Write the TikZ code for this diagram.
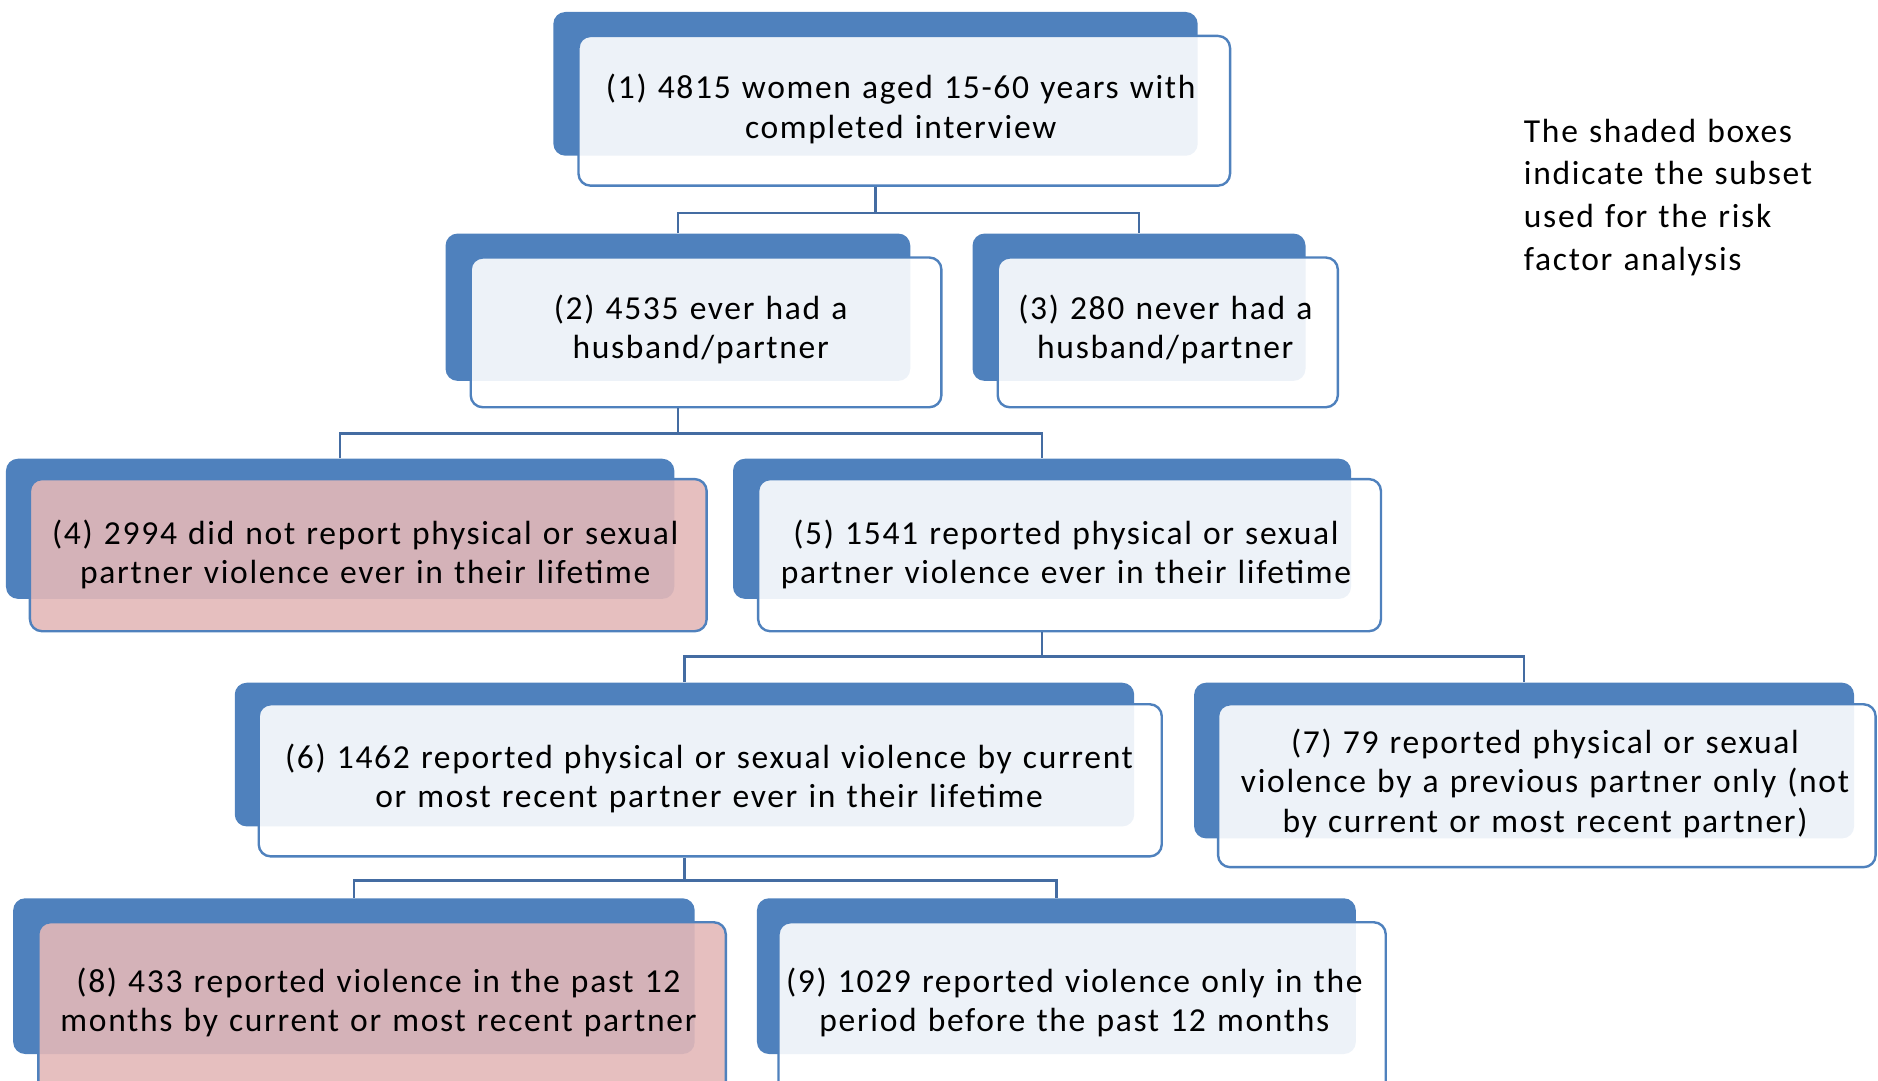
\documentclass[tikz,border=0pt]{standalone}
\usepackage{fontspec}
\setmainfont{Carlito}[LetterSpace=5,WordSpace=1.2]
\usetikzlibrary{fit}
\definecolor{boxblue}{RGB}{79,129,189}
\definecolor{linkblue}{RGB}{68,108,162}
\definecolor{pinkfill}{RGB}{227,184,184}
\begin{document}
\begin{tikzpicture}[x=0.5pt,y=-0.5pt,
  back/.style={fill=boxblue,rounded corners=5pt,inner sep=0pt},
  front/.style={draw=boxblue,line width=1pt,fill=white,fill opacity=0.9,rounded corners=5pt,inner sep=0pt},
  shaded/.style={front,fill=pinkfill},
  txt/.style={align=center,inner sep=0pt,font=\fontsize{14}{16.5}\selectfont},
  note/.style={align=left,inner sep=0pt,font=\fontsize{14}{17.8}\selectfont},
  link/.style={draw=linkblue,line width=1pt}]
  \useasboundingbox (0,0) rectangle (1568,902);
  \clip (0,0) rectangle (1568,902);
  % back boxes
  \node[back,fit={(462,10)(1000,130)}] (s1) {};
  \node[back,fit={(372,195)(760,318)}] (s2) {};
  \node[back,fit={(812,195)(1090,318)}] (s3) {};
  \node[back,fit={(5,383)(563,500)}] (s4) {};
  \node[back,fit={(612,383)(1128,500)}] (s5) {};
  \node[back,fit={(196,570)(947,690)}] (s6) {};
  \node[back,fit={(997,570)(1548,700)}] (s7) {};
  \node[back,fit={(11,750)(580,880)}] (s8) {};
  \node[back,fit={(632,750)(1132,880)}] (s9) {};
  % front boxes
  \node[front,fit={(483,30)(1027,155)}] (b1) {};
  \node[front,fit={(393,215)(786,340)}] (b2) {};
  \node[front,fit={(833,215)(1117,340)}] (b3) {};
  \node[shaded,fit={(25,400)(590,527)}] (b4) {};
  \node[front,fit={(633,400)(1153,527)}] (b5) {};
  \node[front,fit={(216,588)(970,715)}] (b6) {};
  \node[front,fit={(1017,588)(1566,724)}] (b7) {};
  \node[shaded,fit={(32,770)(606,915)}] (b8) {};
  \node[front,fit={(650,770)(1157,915)}] (b9) {};
  % texts
  \node[txt] (t1) at (752,91) {(1) 4815 women aged 15-60 years with\\completed interview};
  \node[txt] (t2) at (585,275) {(2) 4535 ever had a\\husband/partner};
  \node[txt] (t3) at (973,275) {(3) 280 never had a\\husband/partner};
  \node[txt] (t4) at (305,463) {(4) 2994 did not report physical or sexual\\partner violence ever in their lifetime};
  \node[txt] (t5) at (890,463) {(5) 1541 reported physical or sexual\\partner violence ever in their lifetime};
  \node[txt] (t6) at (592,650) {(6) 1462 reported physical or sexual violence by current\\or most recent partner ever in their lifetime};
  \node[txt] (t7) at (1290,654) {(7) 79 reported physical or sexual\\violence by a previous partner only (not\\by current or most recent partner)};
  \node[txt] (t8) at (316,837) {(8) 433 reported violence in the past 12\\months by current or most recent partner};
  \node[txt] (t9) at (897,837) {(9) 1029 reported violence only in the\\period before the past 12 months};
  \node[note,anchor=north west] (n1) at (1272,99) {The shaded boxes\\indicate the subset\\used for the risk\\factor analysis};
  % connectors
  \coordinate (j1) at (0,178); \coordinate (j2) at (0,362);
  \coordinate (j3) at (0,548); \coordinate (j4) at (0,735);
  \draw[link] (s1.south |- b1.south) -- (s1.south |- j1);
  \draw[link] (s2.north) -- (s2.north |- j1) -- (s3.north |- j1) -- (s3.north);
  \draw[link] (s2.south |- b2.south) -- (s2.south |- j2);
  \draw[link] (s4.north) -- (s4.north |- j2) -- (s5.north |- j2) -- (s5.north);
  \draw[link] (s5.south |- b5.south) -- (s5.south |- j3);
  \draw[link] (s6.north) -- (s6.north |- j3) -- (s7.north |- j3) -- (s7.north);
  \draw[link] (s6.south |- b6.south) -- (s6.south |- j4);
  \draw[link] (s8.north) -- (s8.north |- j4) -- (s9.north |- j4) -- (s9.north);
\end{tikzpicture}
\end{document}
